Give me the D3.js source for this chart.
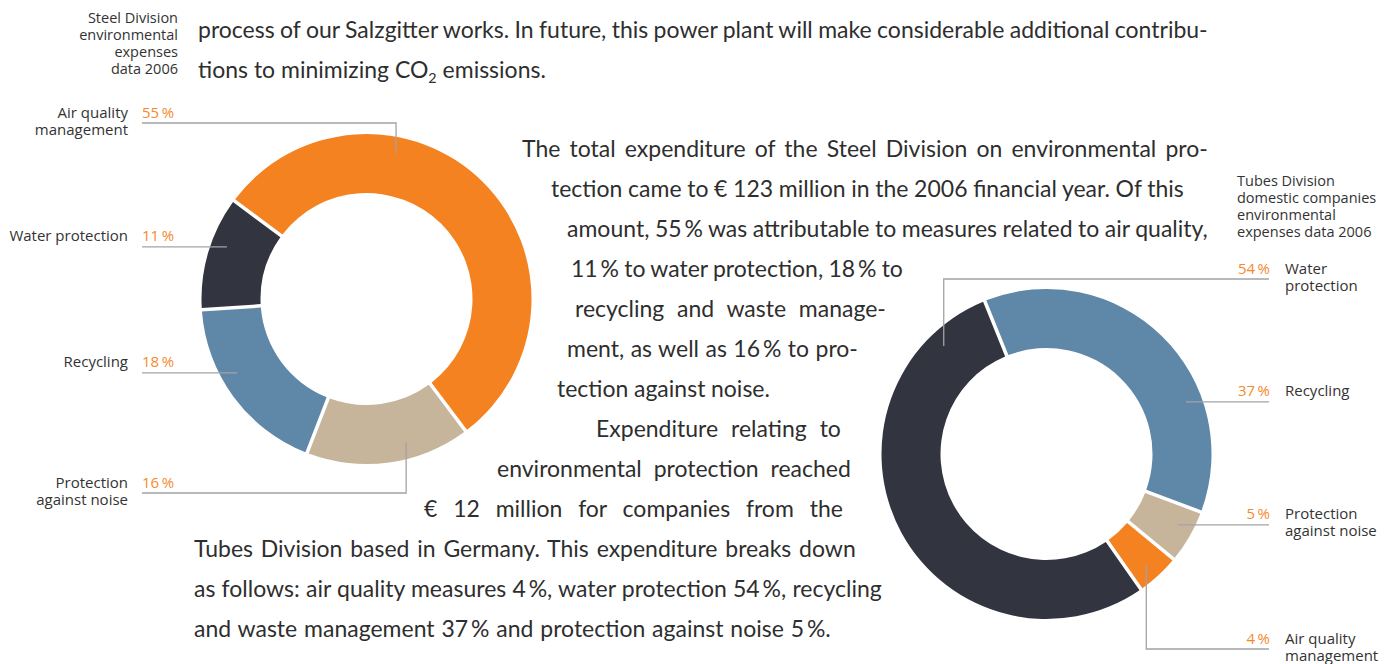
<!DOCTYPE html>
<html>
<head>
<meta charset="utf-8">
<script src="https://cdn.jsdelivr.net/npm/d3@7"></script>
<style>
  body { margin: 0; background: #fff; }
  svg { display: block; }
</style>
</head>
<body>
<div id="chart"></div>
<script>
// data, listed in clockwise drawing order
var steelCategories = ["Air quality management", "Protection against noise", "Recycling", "Water protection"];
var steelValues = [55, 16, 18, 11];

var tubesCategories = ["Recycling", "Protection against noise", "Air quality management", "Water protection"];
var tubesValues = [37, 5, 4, 54];

var colors = d3.scaleOrdinal()
    .domain(["Air quality management", "Water protection", "Recycling", "Protection against noise"])
    .range(["#f58220", "#32343f", "#5f87a8", "#c6b59b"]);

var width = 1394, height = 664;
var labelFont = "'Open Sans', 'Noto Sans', sans-serif";

var svg = d3.select("#chart")
    .append("svg")
        .attr("width", width)
        .attr("height", height);

// label layout: f = where along the slice the leader ends, y = elbow line (null = straight)
var steelLayout = {
    cx: 366.5, cy: 299, start: -53.4, side: "left",
    labels: {
        "Air quality management": {f: 0.33, y: 123, lines: ["Air quality", "management"]},
        "Water protection": {f: 0.6, y: null, lines: ["Water protection"]},
        "Recycling": {f: 0.6, y: null, lines: ["Recycling"]},
        "Protection against noise": {f: 0.37, y: 493, lines: ["Protection", "against noise"]}
    }
};
var tubesLayout = {
    cx: 1046.5, cy: 454, start: -22, side: "right",
    labels: {
        "Water protection": {f: 0.888, y: 279, lines: ["Water", "protection"]},
        "Recycling": {f: 0.69, y: null, lines: ["Recycling"]},
        "Protection against noise": {f: 0.41, y: null, lines: ["Protection", "against noise"]},
        "Air quality management": {f: 0.54, y: 649, lines: ["Air quality", "management"]}
    }
};

function donut(cfg, cats, vals) {
    var data = cats.map((c, i) => ({cat: c, value: vals[i]}));
    var a0 = cfg.start * Math.PI / 180;
    var pie = d3.pie()
        .sort(null)
        .value(d => d.value)
        .startAngle(a0)
        .endAngle(a0 + 2 * Math.PI)
        .padAngle(0.022);
    var arc = d3.arc()
        .innerRadius(106)
        .outerRadius(165)
        .padRadius(160);
    var arcs = pie(data);

    var g = svg.append("g")
        .attr("transform", "translate(" + cfg.cx + ", " + cfg.cy + ")");
    g.selectAll("path.slice")
        .data(arcs)
        .enter()
        .append("path")
            .attr("class", "slice")
            .attr("d", arc)
            .attr("fill", d => colors(d.data.cat));

    var left = cfg.side == "left";
    arcs.forEach(a => {
        var lab = cfg.labels[a.data.cat];
        var ang = a.startAngle + lab.f * (a.endAngle - a.startAngle);
        var ax = cfg.cx + 149 * Math.sin(ang),
            ay = cfg.cy - 149 * Math.cos(ang);
        var ly = lab.y == null ? ay : lab.y;
        var x0 = left ? 142 : 1269;

        svg.append("path")
            .attr("d", "M" + x0 + "," + ly + "H" + ax + "V" + ay)
            .attr("fill", "none")
            .attr("stroke", "#a3a3a3")
            .attr("stroke-width", 1.3);

        svg.append("text")
            .attr("x", left ? 142 : 1270)
            .attr("y", ly - 5.5)
            .attr("text-anchor", left ? "start" : "end")
            .attr("font-family", labelFont)
            .attr("font-size", 15)
            .attr("fill", "#f58a2e")
            .text(a.data.value + "\u2009%");

        var t = svg.append("text")
            .attr("text-anchor", left ? "end" : "start")
            .attr("font-family", labelFont)
            .attr("font-size", 15)
            .attr("fill", "#333");
        lab.lines.forEach((s, i) => {
            t.append("tspan")
                .attr("x", left ? 128 : 1285)
                .attr("y", ly - 5.5 + i * 17)
                .text(s);
        });
    });
}

donut(steelLayout, steelCategories, steelValues);
donut(tubesLayout, tubesCategories, tubesValues);

// captions
function caption(lines, x, y, anchor) {
    var t = svg.append("text")
        .attr("text-anchor", anchor)
        .attr("font-family", labelFont)
        .attr("font-size", 14.5)
        .attr("fill", "#333");
    lines.forEach((s, i) => {
        t.append("tspan").attr("x", x).attr("y", y + i * 17).text(s);
    });
}
caption(["Steel Division", "environmental", "expenses", "data 2006"], 178, 23, "end");
caption(["Tubes Division", "domestic companies", "environmental", "expenses data 2006"], 1237, 186, "start");

// body copy flowing around the charts; each line is stretched between xl and xr
var bodyLines = [
    {t: "process of our Salzgitter works. In future, this power plant will make considerable additional contribu-", xl: 198, xr: 1208, y: 38},
    {t: "tions to minimizing CO|2| emissions.", xl: 198, xr: 546, y: 78, natural: true},
    {t: "The total expenditure of the Steel Division on environmental pro-", xl: 522, xr: 1208, y: 157},
    {t: "tection came to \u20ac 123 million in the 2006 financial year. Of this", xl: 551, xr: 1184, y: 197},
    {t: "amount, 55\u2009% was attributable to measures related to air quality,", xl: 567, xr: 1208, y: 237},
    {t: "11\u2009% to water protection, 18\u2009% to", xl: 571, xr: 903, y: 277, natural: true},
    {t: "recycling and waste manage-", xl: 575, xr: 886, y: 317},
    {t: "ment, as well as 16\u2009% to pro-", xl: 567, xr: 858, y: 357},
    {t: "tection against noise.", xl: 557, xr: 770, y: 397, natural: true},
    {t: "Expenditure relating to", xl: 596, xr: 841, y: 437},
    {t: "environmental protection reached", xl: 497, xr: 851, y: 477},
    {t: "\u20ac 12 million for companies from the", xl: 424, xr: 843, y: 517},
    {t: "Tubes Division based in Germany. This expenditure breaks down", xl: 194, xr: 856, y: 557},
    {t: "as follows: air quality measures 4\u2009%, water protection 54\u2009%, recycling", xl: 194, xr: 882, y: 597},
    {t: "and waste management 37\u2009% and protection against noise 5\u2009%.", xl: 194, xr: 831, y: 637, natural: true}
];

var body = svg.append("g")
    .attr("font-family", "Lato, 'Noto Sans', sans-serif")
    .attr("font-size", 22.5)
    .attr("fill", "#2e2e2e");

var rows = bodyLines.map(d => {
    var g = body.append("g");
    var t = g.append("text").attr("x", 0).attr("y", 0);
    d.t.split("|").forEach((s, i) => {
        var sp = t.append("tspan").text(s);
        if (i % 2 == 1) sp.attr("font-size", 14).attr("dy", 5);
        else if (i > 0) sp.attr("dy", -5);
    });
    return {g: g, t: t, w: t.node().getComputedTextLength()};
});

// condense the glyphs so that unjustified lines keep their width, then justify with word spacing
var k = d3.mean(bodyLines.filter(d => d.natural), d => (d.xr - d.xl) / rows[bodyLines.indexOf(d)].w);
rows.forEach((r, i) => {
    var d = bodyLines[i];
    r.g.attr("transform", "translate(" + d.xl + ", " + d.y + ") scale(" + k + ", 1)");
    var gaps = d.t.split(" ").length - 1;
    if (gaps > 0) r.t.style("word-spacing", ((d.xr - d.xl) / k - r.w) / gaps + "px");
});
</script>
</body>
</html>
